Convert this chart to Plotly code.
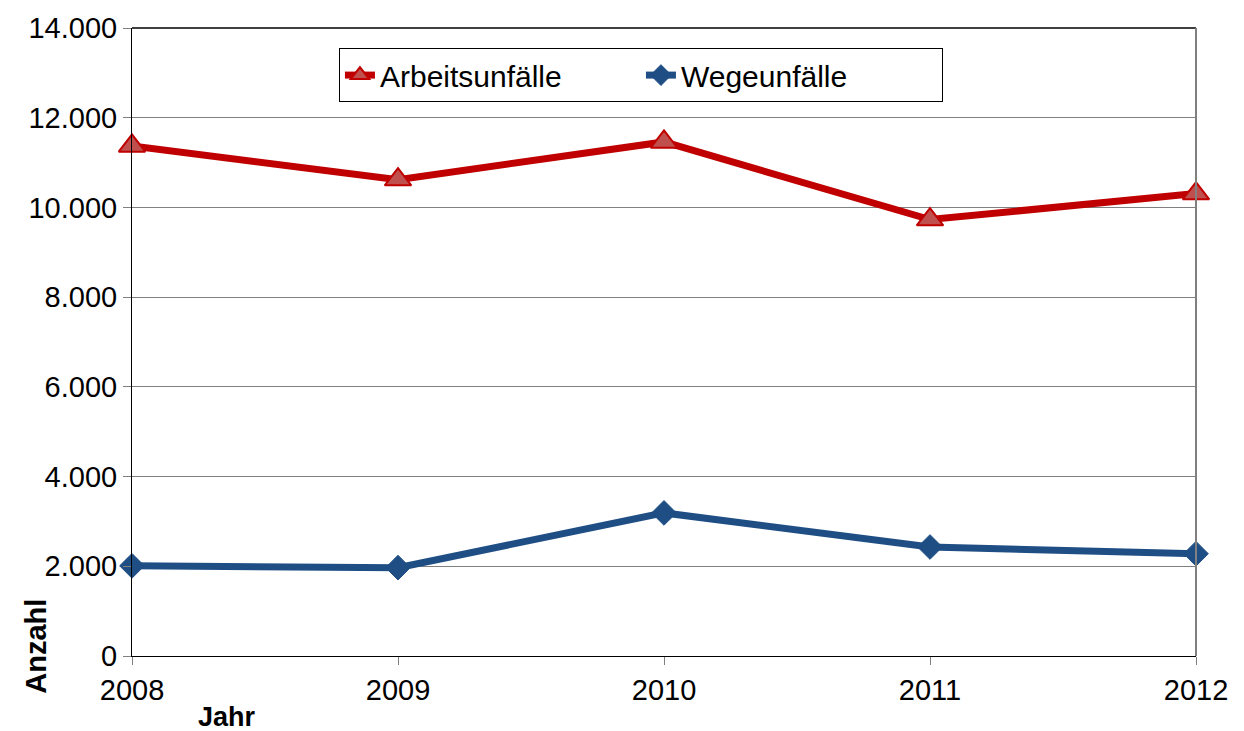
import plotly.graph_objects as go

years = [2008, 2009, 2010, 2011, 2012]
arbeitsunfaelle = [11370, 10620, 11460, 9730, 10310]
wegeunfaelle = [2010, 1970, 3190, 2430, 2280]
y_ticks = [0, 2000, 4000, 6000, 8000, 10000, 12000, 14000]

fig = go.Figure()
fig.add_trace(go.Scatter(
    x=years, y=arbeitsunfaelle, name="Arbeitsunfälle", mode="lines+markers",
    line=dict(color="#C00000", width=7),
    marker=dict(symbol="triangle-up", size=23, color="#C0504D",
                line=dict(color="#C00000", width=2)),
    cliponaxis=False,
))
fig.add_trace(go.Scatter(
    x=years, y=wegeunfaelle, name="Wegeunfälle", mode="lines+markers",
    line=dict(color="#1F4E85", width=7),
    marker=dict(symbol="diamond", size=19, color="#1F4E85",
                line=dict(color="#1F4E85", width=1)),
    cliponaxis=False,
))

fig.update_layout(
    width=1244, height=731,
    margin=dict(l=132, r=48, t=23, b=75),
    paper_bgcolor="white", plot_bgcolor="white",
    separators=",.",
    font=dict(family="Liberation Sans, Arial", size=29, color="black"),
    showlegend=True,
    legend=dict(orientation="h", x=0.1945, y=0.968, xanchor="left", yanchor="top",
                bordercolor="black", borderwidth=1, bgcolor="white",
                font=dict(size=30), entrywidth=256, tracegroupgap=0),
    xaxis=dict(range=[2008, 2012], tickmode="array", tickvals=years,
               ticktext=[str(y) for y in years],
               showgrid=False, showline=True, linecolor="black", linewidth=1,
               ticks="outside", ticklen=8, tickcolor="#808080", zeroline=False),
    yaxis=dict(range=[0, 14000], tickmode="array", tickvals=y_ticks,
               tickformat=",d", showgrid=True, gridcolor="#808080", gridwidth=1,
               showline=True, linecolor="black", linewidth=1,
               ticks="outside", ticklen=8, tickcolor="#808080", zeroline=False),
    shapes=[
        dict(type="line", xref="paper", yref="paper", x0=0, x1=1, y0=1, y1=1,
             line=dict(color="#404040", width=2)),
        dict(type="line", xref="paper", yref="paper", x0=1, x1=1, y0=0, y1=1,
             line=dict(color="#808080", width=2)),
    ],
    annotations=[
        dict(text="<b>Anzahl</b>", xref="paper", yref="paper", x=-0.091, y=0.015,
             xanchor="center", yanchor="middle", textangle=-90, showarrow=False,
             font=dict(size=29)),
        dict(text="<b>Jahr</b>", xref="paper", yref="paper", x=0.0895, y=-0.07,
             xanchor="center", yanchor="top", showarrow=False,
             font=dict(size=27)),
    ],
)

fig.write_html("out.html", config={"displayModeBar": False},
               post_script="document.body.style.margin='0';document.body.style.overflow='hidden';")
